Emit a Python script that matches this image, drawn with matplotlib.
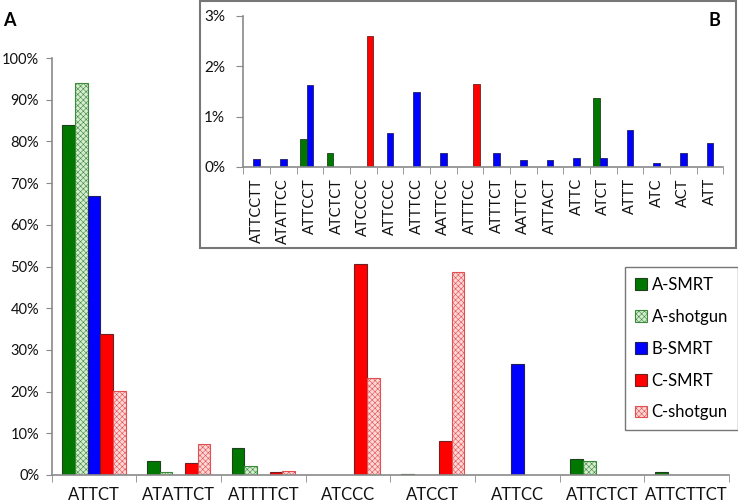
import numpy as np
import matplotlib
matplotlib.use("Agg")
import matplotlib.pyplot as plt
from matplotlib.patches import Patch, Rectangle
from matplotlib.ticker import FuncFormatter

plt.rcParams['font.family'] = ['Lato', 'DejaVu Sans']
plt.rcParams['hatch.linewidth'] = 0.4

# ---- main panel data (percent) ----
categories = ['ATTCT', 'ATATTCT', 'ATTTTCT', 'ATCCC', 'ATCCT', 'ATTCC', 'ATTCTCT', 'ATTCTTCT']
a_smrt    = [84.0, 3.3, 6.5, 0.0, 0.15, 0.0, 3.9, 0.6]
a_shotgun = [94.0, 0.6, 2.1, 0.0, 0.0, 0.0, 3.4, 0.0]
b_smrt    = [67.0, 0.0, 0.0, 0.0, 0.0, 26.5, 0.0, 0.0]
c_smrt    = [33.7, 2.8, 0.7, 50.7, 8.1, 0.0, 0.0, 0.0]
c_shotgun = [20.1, 7.4, 0.9, 23.3, 48.6, 0.0, 0.0, 0.0]
series_names = ['A-SMRT', 'A-shotgun', 'B-SMRT', 'C-SMRT', 'C-shotgun']
main_yticks = [0, 10, 20, 30, 40, 50, 60, 70, 80, 90, 100]

# ---- inset panel data (percent) ----
inset_cats = ['ATTCCTT', 'ATATTCC', 'ATTCCT', 'ATCTCT', 'ATCCCC', 'ATTCCC', 'ATTTCC', 'AATTCC',
              'ATTTCC', 'ATTTCT', 'AATTCT', 'ATTACT', 'ATTC', 'ATCT', 'ATTT', 'ATC', 'ACT', 'ATT']
inset_a = [0, 0, 0.55, 0.27, 0, 0, 0, 0, 0, 0, 0, 0, 0, 1.36, 0, 0, 0, 0]
inset_b = [0.15, 0.15, 1.63, 0, 0, 0.67, 1.49, 0.27, 0, 0.27, 0.14, 0.14, 0.18, 0.18, 0.73, 0.07, 0.27, 0.47]
inset_c = [0, 0, 0, 0, 2.59, 0, 0, 0, 1.64, 0, 0, 0, 0, 0, 0, 0, 0, 0]
inset_yticks = [0, 1, 2, 3]

# styles
styles = [
    dict(facecolor='#007800', edgecolor='#1f3f1f', hatch=None),
    dict(facecolor='#d6ecd0', edgecolor='#3a8a3a', hatch='xxxxxx'),
    dict(facecolor='#0000ff', edgecolor='#202060', hatch=None),
    dict(facecolor='#ff0000', edgecolor='#702020', hatch=None),
    dict(facecolor='#ffd6d6', edgecolor='#e05050', hatch='xxxxxx'),
]
axis_gray = '#8a8a8a'
FS = 12
W, H = 738, 503
fig = plt.figure(figsize=(W / 100, H / 100), dpi=100)

def fx(px):
    return px / W

def fy(py):
    return 1 - py / H

# ---------------- main axes ----------------
ax = fig.add_axes([fx(51.7), fy(475), fx(729) - fx(51.7), fy(58) - fy(475)])
x = np.arange(len(categories))
bw = 0.15
for i, (vals, st, name) in enumerate(zip([a_smrt, a_shotgun, b_smrt, c_smrt, c_shotgun], styles, series_names)):
    vals = np.asarray(vals, dtype=float)
    m = vals > 0
    ax.bar(x[m] + (i - 2) * bw, vals[m], width=bw, facecolor=st['facecolor'],
           edgecolor=st['edgecolor'], hatch=st['hatch'], linewidth=0.8, zorder=2)
ax.set_xlim(-0.5, len(categories) - 0.5)
ax.set_ylim(0, 100)
ax.set_yticks(main_yticks)
ax.yaxis.set_major_formatter(FuncFormatter(lambda v, p: f'{v:.0f}%'))
ax.set_xticks(x)
ax.set_xticklabels(categories)
ax.set_xticks(np.arange(len(categories) + 1) - 0.5, minor=True)
ax.tick_params(axis='x', which='major', length=0, pad=9, labelsize=FS, colors='#111111')
ax.tick_params(axis='x', which='minor', length=5, direction='out', color=axis_gray)
ax.tick_params(axis='y', length=4, direction='out', color=axis_gray, labelsize=10.5, pad=5,
               labelcolor='#111111')
for s in ['top', 'right']:
    ax.spines[s].set_visible(False)
for s in ['left', 'bottom']:
    ax.spines[s].set_color(axis_gray)
    ax.spines[s].set_linewidth(1.2)

fig.text(fx(3), fy(20), 'A', fontsize=13, fontweight='bold', ha='left', va='center')

# legend
handles = [Patch(facecolor=st['facecolor'], edgecolor=st['edgecolor'], hatch=st['hatch'], linewidth=0.8)
           for st in styles]
leg = fig.legend(handles, series_names, loc='upper left',
                 bbox_to_anchor=(fx(625), fy(267)), frameon=True, fancybox=False,
                 fontsize=FS, handlelength=0.7, handleheight=0.7, handletextpad=0.3,
                 labelspacing=0.95, borderpad=0.6, borderaxespad=0)
leg.get_frame().set_edgecolor('#555555')
leg.get_frame().set_linewidth(1.0)

# ---------------- inset ----------------
frame = Rectangle((fx(200), fy(248)), fx(736) - fx(200), fy(1) - fy(248), transform=fig.transFigure,
                  facecolor='white', edgecolor='#777777', linewidth=1.5, zorder=5)
fig.patches.append(frame)

ax2 = fig.add_axes([fx(243.3), fy(167), fx(723.3) - fx(243.3), fy(15.7) - fy(167)])
ax2.set_zorder(6)
xi = np.arange(len(inset_cats))
ibw = 0.25
for i, (vals, st) in enumerate(zip([inset_a, inset_b, inset_c], [styles[0], styles[2], styles[3]])):
    vals = np.asarray(vals, dtype=float)
    m = vals > 0
    ax2.bar(xi[m] + (i - 1) * ibw, vals[m], width=ibw, facecolor=st['facecolor'],
            edgecolor=st['edgecolor'], linewidth=0.6, zorder=2)
ax2.set_xlim(-0.5, len(inset_cats) - 0.5)
ax2.set_ylim(0, 3)
ax2.set_yticks(inset_yticks)
ax2.yaxis.set_major_formatter(FuncFormatter(lambda v, p: f'{v:.0f}%'))
ax2.set_xticks(xi)
ax2.set_xticklabels(inset_cats, rotation=90)
ax2.set_xticks(np.arange(len(inset_cats) + 1) - 0.5, minor=True)
ax2.tick_params(axis='x', which='major', length=0, pad=8, labelsize=10.5, colors='#111111')
ax2.tick_params(axis='x', which='minor', length=5, direction='out', color=axis_gray)
ax2.tick_params(axis='y', length=5, direction='out', color=axis_gray, labelsize=11, pad=8,
                labelcolor='#111111')
for s in ['top', 'right']:
    ax2.spines[s].set_visible(False)
for s in ['left', 'bottom']:
    ax2.spines[s].set_color(axis_gray)
    ax2.spines[s].set_linewidth(1.2)
ax2.patch.set_alpha(0)

fig.text(fx(714), fy(20), 'B', fontsize=13, fontweight='bold', ha='center', va='center', zorder=7)

fig.savefig('out.png', dpi=100)
